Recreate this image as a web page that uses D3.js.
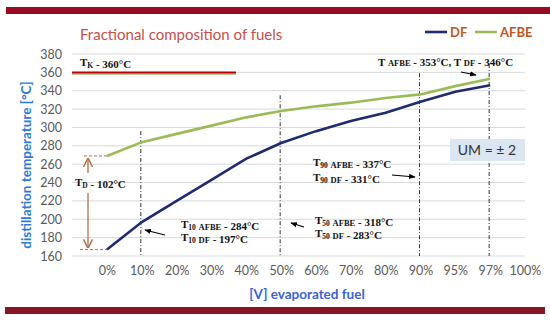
<!DOCTYPE html>
<html><head><meta charset="utf-8">
<script src="https://cdn.jsdelivr.net/npm/d3@7"></script>
<style>body{margin:0;background:#fff}svg{display:block}</style>
</head><body>
<svg id="c" width="550" height="320"></svg>
<script>
const categories = ["0%","10%","20%","30%","40%","50%","60%","70%","80%","90%","95%","97%","100%"];
const dfValues   = [167,197,220,243,266,283,296,307,316,328,339,346];
const afbeValues = [269,284,293,302,311,318,323,327,332,336,345,353];
const yTicks = [160,180,200,220,240,260,280,300,320,340,360,380];

const svg = d3.select("#c");
const x = d3.scalePoint().domain(categories).range([107,525]);
const y = d3.scaleLinear().domain([160,380]).range([256,54]);
const gridX0 = 72, gridX1 = 525;
const sans = "Lato, 'Open Sans', sans-serif";
const serif = "'Liberation Serif', 'DejaVu Serif', serif";

// dark red bars
svg.append("rect").attr("x",6).attr("y",7).attr("width",544).attr("height",7).attr("fill","#9a0b22");
svg.append("rect").attr("x",5).attr("y",307).attr("width",540).attr("height",7).attr("fill","#8a1522");

// gridlines
svg.append("g").selectAll("line").data(yTicks).join("line")
  .attr("x1",gridX0).attr("x2",gridX1).attr("y1",d=>y(d)).attr("y2",d=>y(d))
  .attr("stroke","#d9d9d9").attr("stroke-width",1);

// y axis labels
const yAxis = d3.axisLeft(y).tickValues(yTicks).tickSize(0).tickPadding(0);
const gy = svg.append("g").attr("transform","translate(62,0)").call(yAxis);
gy.select(".domain").remove();
gy.selectAll("text").attr("font-family",sans).attr("font-size",12.5).attr("fill","#595959");

// x axis labels
const xAxis = d3.axisBottom(x).tickSize(0).tickPadding(0);
const gx = svg.append("g").attr("transform","translate(0,266)").call(xAxis);
gx.select(".domain").remove();
gx.selectAll("text").attr("font-family",sans).attr("font-size",12.5).attr("fill","#595959");

// TK line
svg.append("line").attr("x1",gridX0).attr("x2",236).attr("y1",y(360)+1.5).attr("y2",y(360)+1.5).attr("stroke","#6a9a3a").attr("stroke-width",1.2);
svg.append("line").attr("x1",gridX0).attr("x2",236).attr("y1",y(360)).attr("y2",y(360)).attr("stroke","#c00000").attr("stroke-width",1.6);

// vertical dashed lines
const vlines = [["10%",283],["50%",322],["90%",346],["97%",356]];
svg.append("g").selectAll("line").data(vlines).join("line")
  .attr("x1",d=>x(d[0])-1).attr("x2",d=>x(d[0])-1)
  .attr("y1",d=>y(d[1])-12).attr("y2",256)
  .attr("stroke","#333").attr("stroke-width",1).attr("stroke-dasharray","4,2,1,2");

// TD markers
const brown = "#b0704a";
svg.append("line").attr("x1",84).attr("x2",x("0%")).attr("y1",y(afbeValues[0])).attr("y2",y(afbeValues[0])).attr("stroke",brown).attr("stroke-dasharray","3,2");
svg.append("line").attr("x1",80).attr("x2",x("0%")).attr("y1",y(dfValues[0])).attr("y2",y(dfValues[0])).attr("stroke",brown).attr("stroke-dasharray","3,2");
const defs = svg.append("defs");
defs.append("marker").attr("id","ab").attr("viewBox","0 0 10 10").attr("refX",9).attr("refY",5)
   .attr("markerWidth",7).attr("markerHeight",7).attr("orient","auto")
   .append("path").attr("d","M0,0 L10,5 L0,10").attr("fill","none").attr("stroke",brown).attr("stroke-width",1.6);
defs.append("marker").attr("id","ak").attr("viewBox","0 0 10 10").attr("refX",9).attr("refY",5)
   .attr("markerWidth",6).attr("markerHeight",6).attr("orient","auto")
   .append("path").attr("d","M0,1 L10,5 L0,9 Z").attr("fill","#000");
svg.append("line").attr("x1",88).attr("x2",88).attr("y1",173).attr("y2",y(afbeValues[0])+3).attr("stroke",brown).attr("stroke-width",1.3).attr("marker-end","url(#ab)");
svg.append("line").attr("x1",88).attr("x2",88).attr("y1",193).attr("y2",y(dfValues[0])-2).attr("stroke",brown).attr("stroke-width",1.3).attr("marker-end","url(#ab)");

// data lines
const line = d3.line().x((d,i)=>x(categories[i])).y(d=>y(d));
svg.append("path").datum(afbeValues).attr("d",line).attr("fill","none").attr("stroke","#9bbb59").attr("stroke-width",2.6);
svg.append("path").datum(dfValues).attr("d",line).attr("fill","none").attr("stroke","#1f2b6e").attr("stroke-width",2.6);

// title
svg.append("text").attr("x",80).attr("y",40).attr("font-family",sans).attr("font-size",15).attr("fill","#c8504a").text("Fractional composition of fuels");

// legend
svg.append("line").attr("x1",425).attr("x2",447).attr("y1",32).attr("y2",32).attr("stroke","#1f2b6e").attr("stroke-width",2.6);
svg.append("text").attr("x",450).attr("y",37).attr("font-family",sans).attr("font-weight","bold").attr("font-size",13).attr("fill","#c0561e").text("DF");
svg.append("line").attr("x1",475).attr("x2",497).attr("y1",32).attr("y2",32).attr("stroke","#9bbb59").attr("stroke-width",2.6);
svg.append("text").attr("x",500).attr("y",37).attr("font-family",sans).attr("font-weight","bold").attr("font-size",13).attr("fill","#c0561e").text("AFBE");

// axis titles
svg.append("text").attr("transform","translate(31,165) rotate(-90)").attr("text-anchor","middle")
  .attr("font-family",sans).attr("font-weight","bold").attr("font-size",13.5).attr("fill","#2e7bcf").text("distillation temperature [°C]");
svg.append("text").attr("x",307).attr("y",299).attr("text-anchor","middle")
  .attr("font-family",sans).attr("font-weight","bold").attr("font-size",13.5).attr("fill","#3a62d6").text("[V] evaporated fuel");

// annotations
function ann(xp, yp, parts){
  const t = svg.append("text").attr("x",xp).attr("y",yp).attr("font-family",serif).attr("font-weight","bold").attr("font-size",11).attr("fill","#111");
  parts.forEach(p=>{
    if (typeof p === "string") t.append("tspan").text(p);
    else if (p.sub) { t.append("tspan").attr("font-size",7.5).attr("dy",2).text(p.sub); t.append("tspan").attr("dy",-2).text(""); }
    else if (p.sm) { t.append("tspan").attr("font-size",8.5).text(p.sm); }
  });
}
ann(80,66,["T",{sub:"K"}," - 360°C"]);
ann(75,186,["T",{sub:"D"}," - 102°C"]);
ann(181,228,["T",{sub:"10"}," ",{sm:"AFBE"}," - 284°C"]);
ann(181,241,["T",{sub:"10"}," ",{sm:"DF"}," - 197°C"]);
ann(315,224,["T",{sub:"50"}," ",{sm:"AFBE"}," - 318°C"]);
ann(315,237,["T",{sub:"50"}," ",{sm:"DF"}," - 283°C"]);
ann(313,166,["T",{sub:"90"}," ",{sm:"AFBE"}," - 337°C"]);
ann(313,181,["T",{sub:"90"}," ",{sm:"DF"}," - 331°C"]);
ann(378,66,["T ",{sm:"AFBE"}," - 353°C, T ",{sm:"DF"}," - 346°C"]);

function arrow(x1,y1,x2,y2){
  svg.append("line").attr("x1",x1).attr("y1",y1).attr("x2",x2).attr("y2",y2).attr("stroke","#000").attr("stroke-width",1.1).attr("marker-end","url(#ak)");
}
arrow(165,235,145,230);
arrow(304,227,291,223);
arrow(392,175,415,177);
arrow(461,72,476,75);

// UM box
svg.append("rect").attr("x",450).attr("y",139).attr("width",75).attr("height",22).attr("fill","#dce6f2");
svg.append("text").attr("x",487).attr("y",155).attr("text-anchor","middle").attr("font-family",sans).attr("font-size",14).attr("fill","#333").text("UM = ± 2");
</script>
</body></html>
